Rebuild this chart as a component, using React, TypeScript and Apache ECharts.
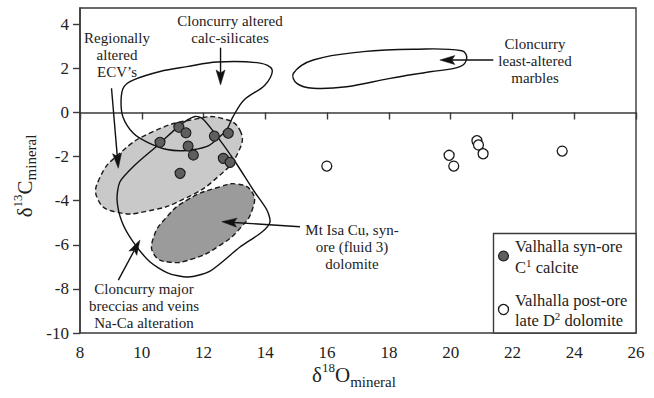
import React, { useEffect, useRef } from 'react';
import * as echarts from 'echarts';

const xTicks = [8, 10, 12, 14, 16, 18, 20, 22, 24, 26];
const yTicks = [-10, -8, -6, -4, -2, 0, 2, 4];

// Valhalla syn-ore C1 calcite (δ18O, δ13C)
const synOreCalcite: [number, number][] = [
  [11.2, -0.67], [11.43, -0.92], [10.59, -1.35], [11.5, -1.52], [11.67, -1.93],
  [12.35, -1.07], [12.8, -0.94], [12.64, -2.08], [12.86, -2.26], [11.24, -2.76],
];

// Valhalla post-ore late D2 dolomite
const postOreDolomite: [number, number][] = [
  [15.99, -2.43], [19.95, -1.94], [20.1, -2.43], [20.85, -1.28], [20.9, -1.47],
  [21.05, -1.87], [23.61, -1.75],
];

// Field outlines (δ18O, δ13C)
const regionalEcvField: [number, number][] = [
  [13.18, -0.81], [13.13, -1.78], [12.48, -2.9], [11.41, -3.89], [10.19, -4.47], [9.15, -4.51],
  [8.58, -3.95], [8.63, -2.99], [9.28, -1.86], [10.36, -0.87], [11.77, -0.29], [12.61, -0.27],
];
const mtIsaDolomiteField: [number, number][] = [
  [13.56, -3.59], [13.6, -4.31], [13.2, -5.22], [12.47, -6.08], [11.62, -6.65], [10.86, -6.78],
  [10.4, -6.44], [10.37, -5.71], [10.77, -4.8], [11.49, -3.95], [12.53, -3.37], [13.11, -3.25],
];
const calcSilicateField: [number, number][] = [
  [9.72, 1.47], [10.59, 1.86], [11.46, 2.08], [12.44, 2.29], [13.83, 2.24], [14.22, 1.93],
  [13.99, 1.25], [13.31, 0.57], [12.95, -0.2], [12.76, -0.75], [12.47, -1.16], [12.11, -1.54],
  [11.46, -1.72], [10.82, -1.68], [10.17, -1.34], [9.72, -0.93], [9.39, -0.2], [9.33, 0.57],
  [9.42, 1.16],
];
const marbleField: [number, number][] = [
  [14.91, 1.78], [15.55, 2.38], [17.17, 2.76], [18.79, 2.87], [20.36, 2.8], [20.52, 2.46],
  [20.3, 2.08], [19.33, 1.85], [18.04, 1.55], [16.63, 1.17], [15.55, 1.1], [15.02, 1.32],
];
const brecciaField: [number, number][] = [
  [11.72, -0.18], [11.98, -0.29], [12.53, -1.25], [13.05, -2.29], [13.63, -3.56], [14.05, -4.42],
  [14.15, -4.97], [13.89, -5.42], [13.18, -6.1], [12.21, -7.19], [11.5, -7.46], [10.85, -7.28],
  [10.27, -6.78], [9.72, -5.87], [9.36, -4.97], [9.2, -3.97], [9.29, -3.15], [9.78, -2.38],
  [10.53, -1.47], [11.24, -0.57],
];

// Annotation arrows: [x1, y1, x2 (tip), y2 (tip)]
const arrowSegments: [number, number, number, number][] = [
  [9.02, 1.1, 9.24, -2.53],
  [12.55, 2.94, 12.55, 1.25],
  [21.38, 2.38, 19.65, 2.38],
  [15.12, -5.18, 12.59, -4.95],
  [9.24, -7.6, 9.94, -5.78],
];

const annotationTexts: string[][] = [
  ['Regionally', 'altered', 'ECV’s'],
  ['Cloncurry altered', 'calc-silicates'],
  ['Cloncurry', 'least-altered', 'marbles'],
  ['Mt Isa Cu, syn-', 'ore (fluid 3)', 'dolomite'],
  ['Cloncurry major', 'breccias and veins', 'Na-Ca alteration'],
];

const FONT = 'Liberation Serif';
const INK = '#222';

function fieldSeries(pts: [number, number][], fill: string, stroke: string, dashed: boolean, smooth: number) {
  return {
    type: 'custom',
    coordinateSystem: 'cartesian2d',
    silent: true,
    data: [pts[0]],
    renderItem: (_p: any, api: any) => ({
      type: 'polygon',
      shape: { points: pts.map((p) => api.coord(p)), smooth },
      style: dashed
        ? { fill, stroke, lineWidth: 1.4, lineDash: [5, 3] }
        : { fill, stroke, lineWidth: 1.4 },
    }),
  };
}

export default function App() {
  const ref = useRef<HTMLDivElement>(null);
  useEffect(() => {
    document.body.style.margin = '0';
    const chart = echarts.init(ref.current!, null, { renderer: 'svg' });
    const axisColor = '#3a3a3a';
    const annotRich = { t: { fontFamily: FONT, fontSize: 15, lineHeight: 17, fill: INK, color: INK } };
    const tickRich = { t: { fontFamily: FONT, fontSize: 17, lineHeight: 18, color: INK } };
    const titleRich = {
      d: { fontFamily: FONT, fontSize: 21, lineHeight: 28, fill: INK, color: INK },
      p: { fontFamily: FONT, fontSize: 13, lineHeight: 10, verticalAlign: 'top', fill: INK, color: INK },
      b: { fontFamily: FONT, fontSize: 15, lineHeight: 12, verticalAlign: 'bottom', fill: INK, color: INK },
    };
    const legendRich = {
      n: { fontFamily: FONT, fontSize: 16.5, lineHeight: 20.5, fill: INK, color: INK },
      s: { fontFamily: FONT, fontSize: 11, lineHeight: 8, verticalAlign: 'top', fill: INK, color: INK },
    };
    const annotPos = [[117, 54.5], [230, 29], [535, 61], [352, 246.5], [144, 306]];
    const option: any = {
      animation: false,
      backgroundColor: '#fff',
      textStyle: { fontFamily: FONT },
      grid: { left: 80, right: 18, top: 8, bottom: 65, show: true, borderColor: axisColor, borderWidth: 1.4, backgroundColor: 'transparent' },
      xAxis: {
        type: 'value', min: 8, max: 26, interval: 2,
        axisLine: { show: true, lineStyle: { color: axisColor, width: 1.6 } },
        axisTick: { show: true, length: 7, customValues: xTicks, lineStyle: { color: axisColor, width: 1.4 } },
        axisLabel: { margin: 10, customValues: xTicks, formatter: (v: number) => `{t|${v}}`, rich: tickRich },
        splitLine: { show: false },
      },
      yAxis: {
        type: 'value', min: -10, max: 4.74,
        axisLine: { show: true, lineStyle: { color: axisColor, width: 1.6 } },
        axisTick: { show: true, length: 7, customValues: yTicks, lineStyle: { color: axisColor, width: 1.4 } },
        axisLabel: { margin: 11, customValues: yTicks, formatter: (v: number) => `{t|${v}}`, rich: tickRich },
        splitLine: { show: false },
      },
      series: [
        fieldSeries(regionalEcvField, '#c9c9c9', '#1a1a1a', true, 0.5),
        fieldSeries(mtIsaDolomiteField, '#9b9b9b', '#1a1a1a', true, 0.5),
        fieldSeries(calcSilicateField, 'none', '#111', false, 0.35),
        fieldSeries(marbleField, 'none', '#111', false, 0.4),
        fieldSeries(brecciaField, 'none', '#111', false, 0.25),
        {
          type: 'custom',
          coordinateSystem: 'cartesian2d',
          silent: true,
          data: arrowSegments,
          renderItem: (_p: any, api: any) => {
            const a = api.coord([api.value(0), api.value(1)]);
            const b = api.coord([api.value(2), api.value(3)]);
            const dx = b[0] - a[0];
            const dy = b[1] - a[1];
            const len = Math.sqrt(dx * dx + dy * dy);
            const ux = dx / len, uy = dy / len;
            const nx = -uy, ny = ux;
            const L = 15, W = 4.5, notch = 3;
            const base = [b[0] - ux * L, b[1] - uy * L];
            const nt = [b[0] - ux * (L - notch), b[1] - uy * (L - notch)];
            return {
              type: 'group',
              children: [
                { type: 'line', shape: { x1: a[0], y1: a[1], x2: nt[0], y2: nt[1] }, style: { stroke: '#111', lineWidth: 1.4 } },
                {
                  type: 'polygon',
                  shape: { points: [b, [base[0] + nx * W, base[1] + ny * W], nt, [base[0] - nx * W, base[1] - ny * W]] },
                  style: { fill: '#111', stroke: '#111', lineWidth: 0.5 },
                },
              ],
            };
          },
        },
        {
          type: 'scatter', name: 'Valhalla syn-ore C1 calcite', data: synOreCalcite, symbol: 'circle', symbolSize: 10,
          itemStyle: { color: '#5e5e5e', borderColor: '#1a1a1a', borderWidth: 1.1, opacity: 1 }, silent: true, z: 5,
        },
        {
          type: 'scatter', name: 'Valhalla post-ore late D2 dolomite', data: postOreDolomite, symbol: 'circle', symbolSize: 10,
          itemStyle: { color: '#ffffff', borderColor: '#1a1a1a', borderWidth: 1.3, opacity: 1 }, silent: true, z: 5,
        },
      ],
      graphic: [
        ...annotationTexts.map((lines, i) => ({
          type: 'text', x: annotPos[i][0], y: annotPos[i][1],
          style: {
            text: lines.map((l) => `{t|${l}}`).join('\n'), rich: annotRich, fontFamily: FONT,
            align: 'center', verticalAlign: 'middle', fill: INK,
          },
        })),
        {
          type: 'text', x: 354, y: 375,
          style: { text: '{d|δ}{p|18}{d|O}{b|mineral}', rich: titleRich, fontFamily: FONT, align: 'center', verticalAlign: 'middle', fill: INK },
        },
        {
          type: 'text', x: 24.5, y: 176, rotation: Math.PI / 2,
          style: { text: '{d|δ}{p|13}{d|C}{b|mineral}', rich: titleRich, fontFamily: FONT, align: 'center', verticalAlign: 'middle', fill: INK },
        },
        {
          type: 'rect', shape: { x: 493.5, y: 233.5, width: 142.5, height: 99.5 },
          style: { fill: '#fff', stroke: axisColor, lineWidth: 1.4 }, z: 10,
        },
        { type: 'circle', shape: { cx: 503.5, cy: 256, r: 5 }, style: { fill: '#5e5e5e', stroke: '#1a1a1a', lineWidth: 1.1 }, z: 11 },
        { type: 'circle', shape: { cx: 503.5, cy: 309.5, r: 5 }, style: { fill: '#fff', stroke: '#1a1a1a', lineWidth: 1.3 }, z: 11 },
        {
          type: 'text', x: 515, y: 257, z: 11,
          style: { text: '{n|Valhalla syn-ore}\n{n|C}{s|1}{n| calcite}', rich: legendRich, fontFamily: FONT, align: 'left', verticalAlign: 'middle', fill: INK },
        },
        {
          type: 'text', x: 515, y: 310.5, z: 11,
          style: { text: '{n|Valhalla post-ore}\n{n|late D}{s|2}{n| dolomite}', rich: legendRich, fontFamily: FONT, align: 'left', verticalAlign: 'middle', fill: INK },
        },
      ],
    };
    chart.setOption(option);
    return () => chart.dispose();
  }, []);
  return <div ref={ref} style={{ width: 654, height: 398 }} />;
}
